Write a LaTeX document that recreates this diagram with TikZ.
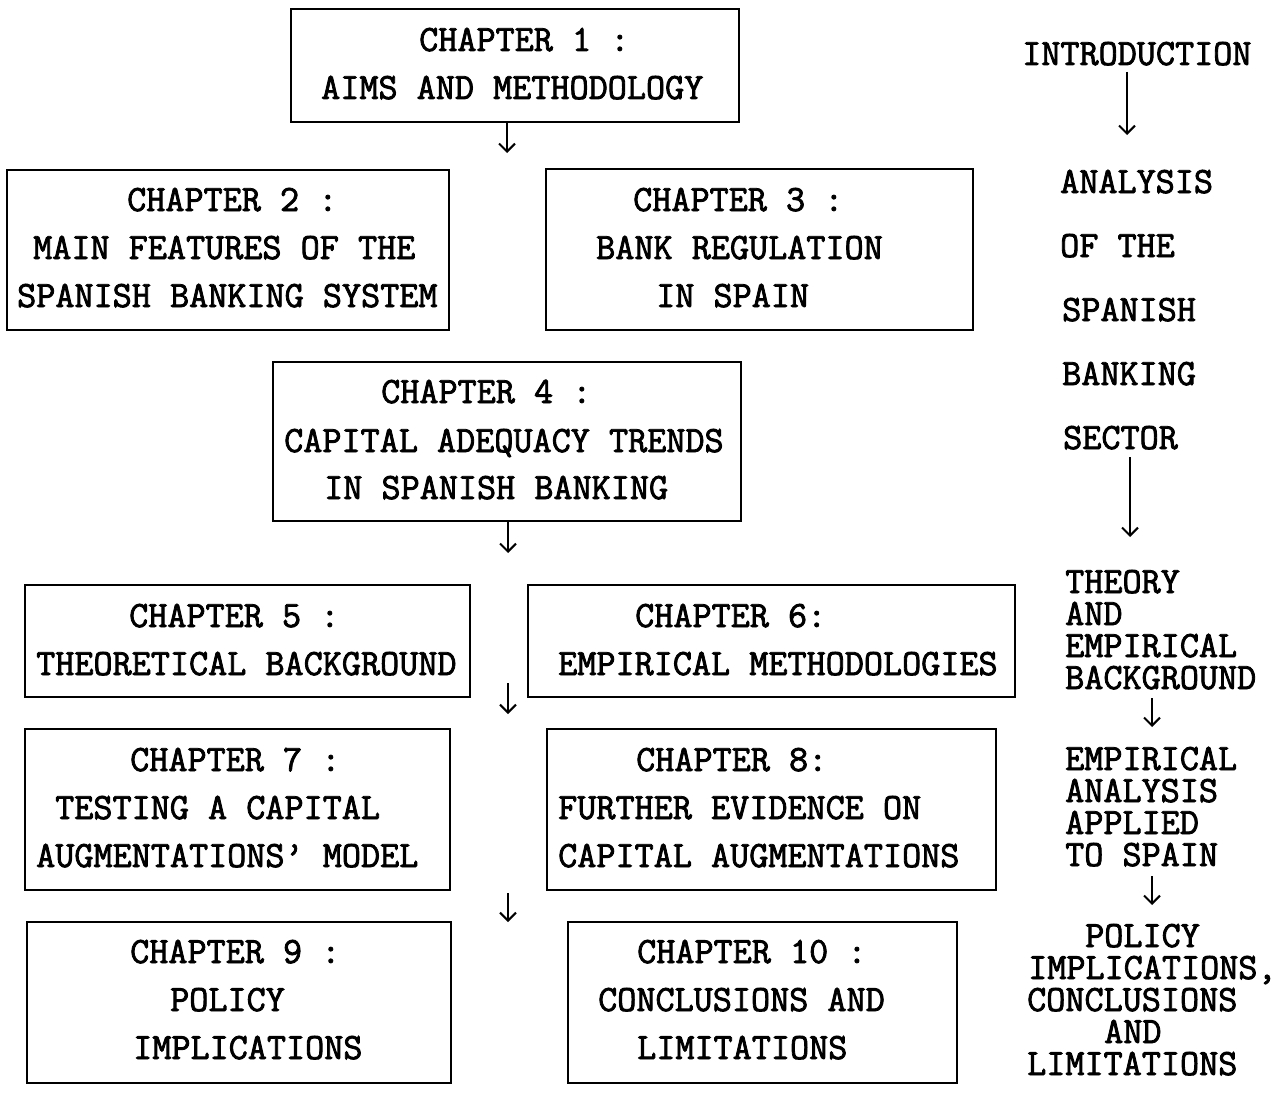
\documentclass[tikz,border=0pt]{standalone}
\usepackage{fontspec}
\setmonofont{Latin Modern Mono}[FakeBold=2.2]
\usetikzlibrary{arrows.meta}
\tikzset{
  chbox/.style={draw, line width=2pt, rectangle, inner sep=0pt},
  txt/.style={anchor=west, inner sep=0pt, text height=22pt, text depth=0pt,
    font=\fontsize{37.1}{37.1}\selectfont\ttfamily},
  arr/.style={line width=2pt, -{Straight Barb[length=8pt,width=16pt,line width=2pt]}}
}
\begin{document}
\begin{tikzpicture}[x=1pt,y=-1pt]
\useasboundingbox (0,0) rectangle (1282,1108);

% chapter boxes
\node[chbox, minimum width=448, minimum height=113] (c1) at (515,65.5) {};
\node[chbox, minimum width=442, minimum height=160] (c2) at (228,250) {};
\node[chbox, minimum width=427, minimum height=161] (c3) at (759.5,249.5) {};
\node[chbox, minimum width=468, minimum height=159] (c4) at (507,441.5) {};
\node[chbox, minimum width=445, minimum height=112] (c5) at (247.5,641) {};
\node[chbox, minimum width=487, minimum height=112] (c6) at (771.5,641) {};
\node[chbox, minimum width=425, minimum height=161] (c7) at (237.5,809.5) {};
\node[chbox, minimum width=449, minimum height=161] (c8) at (771.5,809.5) {};
\node[chbox, minimum width=424, minimum height=161] (c9) at (239,1002.5) {};
\node[chbox, minimum width=389, minimum height=161] (c10) at (762.5,1002.5) {};

% box texts
\node[txt] (t1a) at (419,40) {CHAPTER 1 :};
\node[txt] (t1b) at (321,88) {AIMS AND METHODOLOGY};
\node[txt] (t2a) at (127,200) {CHAPTER 2 :};
\node[txt] (t2b) at (33,248) {MAIN FEATURES OF THE};
\node[txt] (t2c) at (17,296) {SPANISH BANKING SYSTEM};
\node[txt] (t3a) at (633,200) {CHAPTER 3 :};
\node[txt] (t3b) at (596,248) {BANK REGULATION};
\node[txt] (t3c) at (656,296) {IN SPAIN};
\node[txt] (t4a) at (381,392) {CHAPTER 4 :};
\node[txt] (t4b) at (284,441) {CAPITAL ADEQUACY TRENDS};
\node[txt] (t4c) at (324,488) {IN SPANISH BANKING};
\node[txt] (t5a) at (129,616) {CHAPTER 5 :};
\node[txt] (t5b) at (36,664) {THEORETICAL BACKGROUND};
\node[txt] (t6a) at (635,616) {CHAPTER 6:};
\node[txt] (t6b) at (558,664) {EMPIRICAL METHODOLOGIES};
\node[txt] (t7a) at (130,760) {CHAPTER 7 :};
\node[txt] (t7b) at (55,808) {TESTING A CAPITAL};
\node[txt] (t7c) at (36,856) {AUGMENTATIONS’ MODEL};
\node[txt] (t8a) at (636,760) {CHAPTER 8:};
\node[txt] (t8b) at (558,808) {FURTHER EVIDENCE ON};
\node[txt] (t8c) at (558,856) {CAPITAL AUGMENTATIONS};
\node[txt] (t9a) at (130,952) {CHAPTER 9 :};
\node[txt] (t9b) at (170,1000) {POLICY};
\node[txt] (t9c) at (133,1048) {IMPLICATIONS};
\node[txt] (t10a) at (637,952) {CHAPTER 10 :};
\node[txt] (t10b) at (598,1000) {CONCLUSIONS AND};
\node[txt] (t10c) at (637,1048) {LIMITATIONS};

% parts column
\node[txt] (p1) at (1022,54) {INTRODUCTION};
\node[txt] (p2a) at (1060,182) {ANALYSIS};
\node[txt] (p2b) at (1060,246) {OF THE};
\node[txt] (p2c) at (1062,310) {SPANISH};
\node[txt] (p2d) at (1062,374) {BANKING};
\node[txt] (p2e) at (1063,438) {SECTOR};
\node[txt] (p3a) at (1065,582) {THEORY};
\node[txt] (p3b) at (1065,614) {AND};
\node[txt] (p3c) at (1065,646) {EMPIRICAL};
\node[txt] (p3d) at (1065,678) {BACKGROUND};
\node[txt] (p4a) at (1065,759) {EMPIRICAL};
\node[txt] (p4b) at (1065,791) {ANALYSIS};
\node[txt] (p4c) at (1065,823) {APPLIED};
\node[txt] (p4d) at (1065,855) {TO SPAIN};
\node[txt] (p5a) at (1085,936) {POLICY};
\node[txt] (p5b) at (1028,968) {IMPLICATIONS,};
\node[txt] (p5c) at (1027,1000) {CONCLUSIONS};
\node[txt] (p5d) at (1104,1032) {AND};
\node[txt] (p5e) at (1027,1064) {LIMITATIONS};

% arrow end points
\coordinate (a1s) at (507,122);  \coordinate (a1e) at (507,153);
\coordinate (a2s) at (508,521);  \coordinate (a2e) at (508,553);
\coordinate (a3s) at (508,683);  \coordinate (a3e) at (508,714);
\coordinate (a4s) at (508,893);  \coordinate (a4e) at (508,922);
\coordinate (b1s) at (1127,72);  \coordinate (b1e) at (1127,135);
\coordinate (b2s) at (1130,457); \coordinate (b2e) at (1130,537);
\coordinate (b3s) at (1152,698); \coordinate (b3e) at (1152,727);
\coordinate (b4s) at (1152,876); \coordinate (b4e) at (1152,905);

\foreach \s/\e in {a1s/a1e,a2s/a2e,a3s/a3e,a4s/a4e,b1s/b1e,b2s/b2e,b3s/b3e,b4s/b4e}
  \draw[arr] (\s) -- (\e);
\end{tikzpicture}
\end{document}
